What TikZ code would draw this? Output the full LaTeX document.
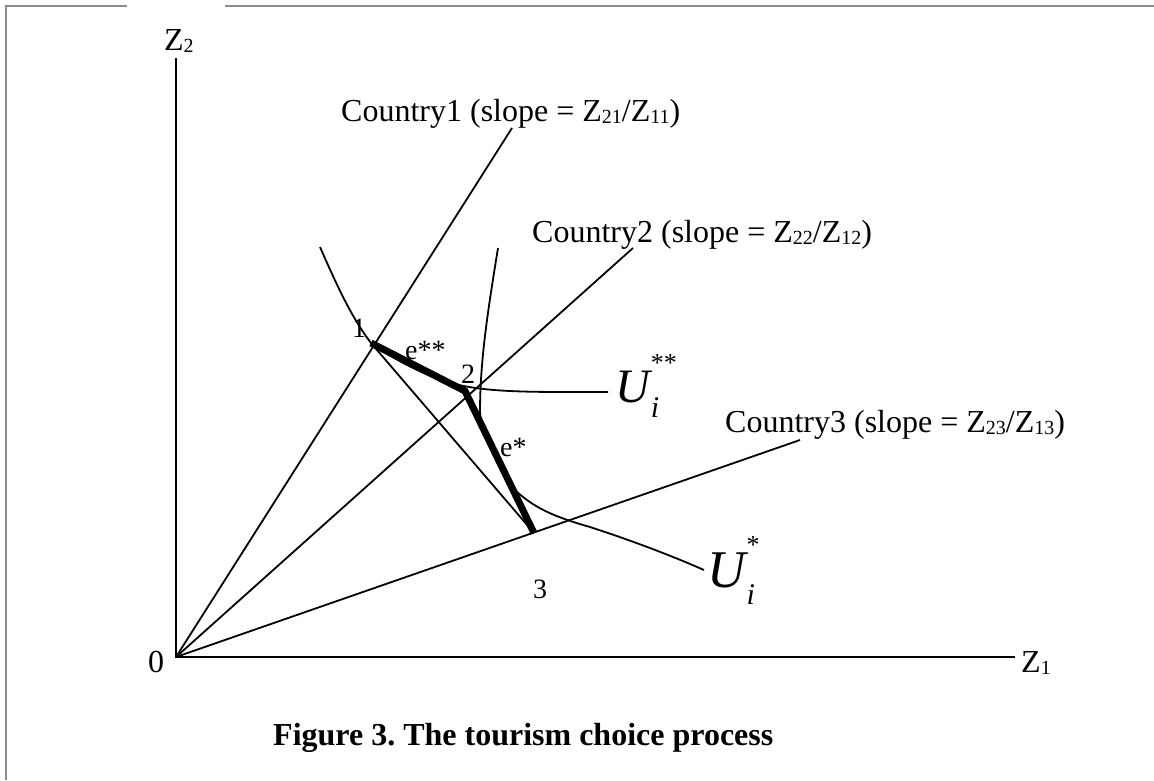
\documentclass[tikz,border=0pt]{standalone}
\usepackage{fontspec}
\setmainfont{Liberation Serif}
\frenchspacing
\newcommand\sbs[1]{\raisebox{-2pt}{\fontsize{20}{20}\selectfont #1}}
\newcommand\ulab[2]{{\fontsize{#2}{#2}\selectfont\itshape U\kern0.02em\rlap{\raisebox{0.64em}{\fontsize{26}{26}\selectfont\upshape #1}}\raisebox{-0.33em}{\fontsize{30}{30}\selectfont i}}}
\begin{document}
\begin{tikzpicture}[x=1pt,y=-1pt,
  thinln/.style={line width=1.8pt, black},
  thickln/.style={line width=7pt, black},
  frameln/.style={line width=2pt, black!45},
  lab/.style={inner sep=0pt, anchor=base west, font=\fontsize{32}{36}\selectfont},
  ptlab/.style={inner sep=0pt, anchor=base west, font=\fontsize{28}{32}\selectfont}]
\useasboundingbox (0,0) rectangle (1154,780);
% frame
\coordinate (F1) at (127,6); \coordinate (F2) at (6,6); \coordinate (F3) at (6,780);
\coordinate (F4) at (225,6); \coordinate (F5) at (1154,6);
\draw[frameln] (F1) -- (F2) -- (F3);
\draw[frameln] (F4) -- (F5);
% axes
\coordinate (O) at (176,657);
\coordinate (Y) at (176,58);
\coordinate (X) at (1015,657);
\draw[thinln] (Y) -- (O) -- (X);
% rays
\coordinate (C1) at (512,128);
\coordinate (C2) at (633,248);
\coordinate (C3) at (800,440);
\draw[thinln] (O) -- (C1);
\draw[thinln] (O) -- (C2);
\draw[thinln] (O) -- (C3);
% points
\coordinate (P1) at (371,343);
\coordinate (P2) at (465,391);
\coordinate (P3) at (534,533);
% line 1-3
\draw[thinln] (P1) -- (P3);
% indifference curve U**
\coordinate (A0) at (320,247);
\coordinate (A1) at (455,384);
\coordinate (A2) at (608,392);
\draw[thinln] (A0) .. controls (338,288) and (352,318) .. (P1)
  .. controls (395,360) and (425,376) .. (A1)
  .. controls (490,393) and (540,392) .. (A2);
% indifference curve U*
\coordinate (B0) at (498,248);
\coordinate (B1) at (480,412);
\coordinate (B2) at (513,488);
\coordinate (B3) at (590,527);
\coordinate (B4) at (704,570);
\draw[thinln] (B0) .. controls (488,310) and (480,360) .. (B1)
  .. controls (481,430) and (490,445) .. (B2)
  .. controls (533,508) and (555,517) .. (B3)
  .. controls (630,540) and (670,555) .. (B4);
% efficiency frontier
\draw[thickln, line join=miter] (P1) -- (P2) -- (P3);
% labels
\node[lab] (z2) at (164,50) {Z\sbs{2}};
\node[lab] (z1) at (1021,672) {Z\sbs{1}};
\node[lab] (zero) at (148,672) {0};
\node[lab] (c1) at (341,121) {Country1 (slope = Z\sbs{21}/Z\sbs{11})};
\node[lab] (c2) at (532,242) {Country2 (slope = Z\sbs{22}/Z\sbs{12})};
\node[lab] (c3) at (725,432) {Country3 (slope = Z\sbs{23}/Z\sbs{13})};
\node[ptlab] (l1) at (352,337) {1};
\node[ptlab] (l2) at (461,383) {2};
\node[ptlab] (l3) at (533,598) {3};
\node[ptlab] (ess) at (405,359) {e**};
\node[ptlab] (es) at (500,456) {e*};
\node[inner sep=0pt, anchor=base west] (u2) at (615,402) {\ulab{**}{48}};
\node[inner sep=0pt, anchor=base west] (u1) at (707,587) {\ulab{*}{53}};
\node[lab, font=\fontsize{32}{36}\selectfont\bfseries] (title) at (273,745) {Figure 3. The tourism choice process};
\end{tikzpicture}
\end{document}
